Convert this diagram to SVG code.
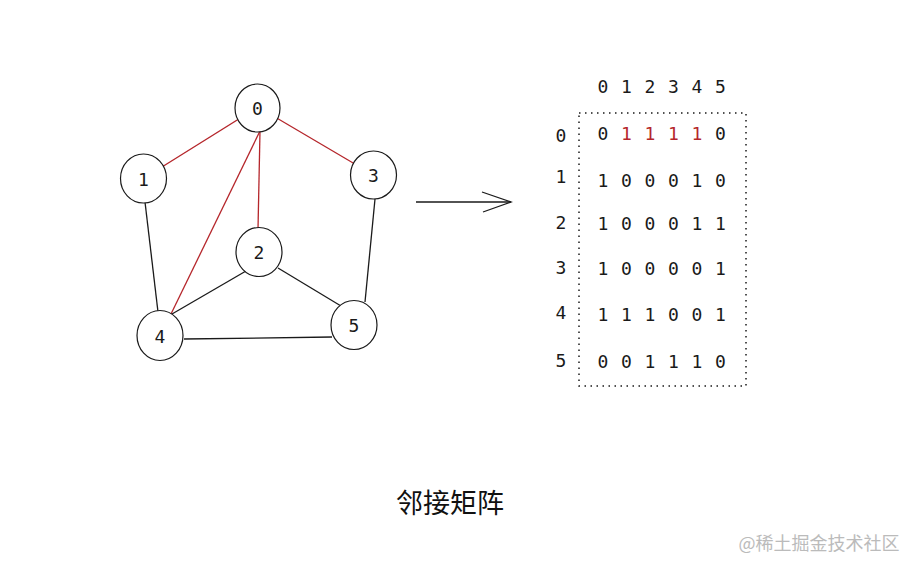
<svg xmlns="http://www.w3.org/2000/svg" width="917" height="570" viewBox="0 0 917 570">
<style>
.node ellipse{fill:#fff;stroke:#1a1a1a;stroke-width:1.2}
.lbl{font-family:"DejaVu Sans Mono","Liberation Mono",monospace;font-size:18px;fill:#1a1a1a;text-anchor:middle;dominant-baseline:central}
.red{fill:#b5262b}
.e{stroke:#1a1a1a;stroke-width:1.3;fill:none}
.er{stroke:#b5262b;stroke-width:1.3;fill:none}
</style>
<rect width="917" height="570" fill="#fff"/>
<g id="connectors">
<line class="er" x1="258" y1="107" x2="143.5" y2="178.5"/>
<line class="er" x1="258" y1="107" x2="373.5" y2="175"/>
<line class="er" x1="260" y1="131" x2="258" y2="229"/>
<line class="er" x1="260" y1="131" x2="171" y2="314"/>
<line class="e" x1="145" y1="202" x2="158" y2="312"/>
<line class="e" x1="246" y1="271" x2="172" y2="314"/>
<line class="e" x1="278" y1="268" x2="341" y2="306"/>
<line class="e" x1="375" y1="199" x2="365" y2="302"/>
<line class="e" x1="184" y1="339" x2="332" y2="337"/>
<g id="arrow">
<line class="e" x1="416" y1="202" x2="511" y2="202"/>
<polyline class="e" points="482,192 511,202 483,212"/>
</g>
</g>
<g id="node0" class="node"><ellipse cx="257.5" cy="108" rx="22.5" ry="24"/><text class="lbl" x="257.5" y="108">0</text></g>
<g id="node1" class="node"><ellipse cx="143.5" cy="178.5" rx="23" ry="24.5"/><text class="lbl" x="143.5" y="179">1</text></g>
<g id="node2" class="node"><ellipse cx="259" cy="252" rx="23" ry="24.5"/><text class="lbl" x="259" y="252">2</text></g>
<g id="node3" class="node"><ellipse cx="373.5" cy="175" rx="23" ry="24"/><text class="lbl" x="373.5" y="175">3</text></g>
<g id="node4" class="node"><ellipse cx="160" cy="335.5" rx="23" ry="25"/><text class="lbl" x="160" y="336">4</text></g>
<g id="node5" class="node"><ellipse cx="354" cy="325" rx="23" ry="24.5"/><text class="lbl" x="354" y="325">5</text></g>
<g id="matrix">
<rect x="579" y="113" width="167" height="273" fill="none" stroke="#1a1a1a" stroke-width="1.5" stroke-dasharray="1.5 4.5"/>
<g class="lbl">
<text class="lbl" x="603" y="86">0</text><text class="lbl" x="626.5" y="86">1</text><text class="lbl" x="650" y="86">2</text><text class="lbl" x="673.5" y="86">3</text><text class="lbl" x="697" y="86">4</text><text class="lbl" x="720.5" y="86">5</text>
<text class="lbl" x="561" y="135">0</text><text class="lbl" x="561" y="176">1</text><text class="lbl" x="561" y="222">2</text><text class="lbl" x="561" y="267">3</text><text class="lbl" x="561" y="312">4</text><text class="lbl" x="561" y="360">5</text>
<text class="lbl" x="603" y="133">0</text><text class="lbl red" x="626.5" y="133">1</text><text class="lbl red" x="650" y="133">1</text><text class="lbl red" x="673.5" y="133">1</text><text class="lbl red" x="697" y="133">1</text><text class="lbl" x="720.5" y="133">0</text>
<text class="lbl" x="603" y="180">1</text><text class="lbl" x="626.5" y="180">0</text><text class="lbl" x="650" y="180">0</text><text class="lbl" x="673.5" y="180">0</text><text class="lbl" x="697" y="180">1</text><text class="lbl" x="720.5" y="180">0</text>
<text class="lbl" x="603" y="223">1</text><text class="lbl" x="626.5" y="223">0</text><text class="lbl" x="650" y="223">0</text><text class="lbl" x="673.5" y="223">0</text><text class="lbl" x="697" y="223">1</text><text class="lbl" x="720.5" y="223">1</text>
<text class="lbl" x="603" y="268">1</text><text class="lbl" x="626.5" y="268">0</text><text class="lbl" x="650" y="268">0</text><text class="lbl" x="673.5" y="268">0</text><text class="lbl" x="697" y="268">0</text><text class="lbl" x="720.5" y="268">1</text>
<text class="lbl" x="603" y="314">1</text><text class="lbl" x="626.5" y="314">1</text><text class="lbl" x="650" y="314">1</text><text class="lbl" x="673.5" y="314">0</text><text class="lbl" x="697" y="314">0</text><text class="lbl" x="720.5" y="314">1</text>
<text class="lbl" x="603" y="361">0</text><text class="lbl" x="626.5" y="361">0</text><text class="lbl" x="650" y="361">1</text><text class="lbl" x="673.5" y="361">1</text><text class="lbl" x="697" y="361">1</text><text class="lbl" x="720.5" y="361">0</text>
</g>
</g>
<text x="450" y="501" font-family="'Noto Sans CJK SC',sans-serif" font-size="27" fill="#111" text-anchor="middle" dominant-baseline="central">邻接矩阵</text>
<text x="819" y="542" font-family="'Noto Sans CJK SC',sans-serif" font-size="18" fill="#bbb" text-anchor="middle" dominant-baseline="central">@稀土掘金技术社区</text>
</svg>
